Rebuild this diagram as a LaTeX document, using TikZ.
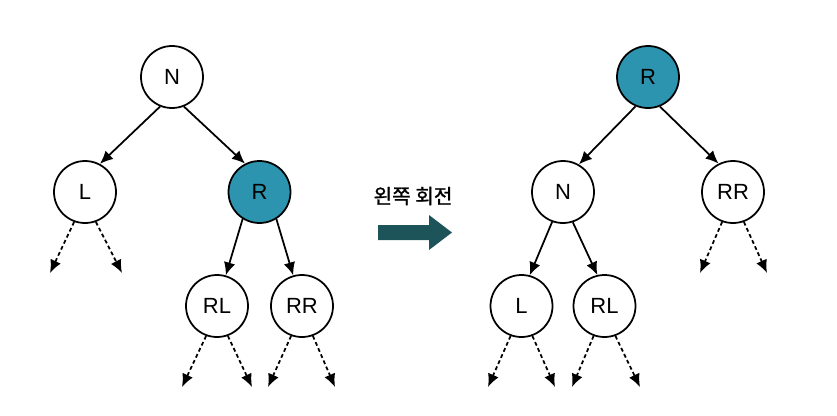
\documentclass[tikz,border=0pt]{standalone}
\usepackage{fontspec}
\setmainfont{Liberation Sans}
\newfontfamily\kofont[FakeBold=1.2]{Noto Sans CJK KR}
\usetikzlibrary{arrows.meta}

\definecolor{rotfill}{RGB}{44,148,174}
\definecolor{rotarrow}{RGB}{28,84,90}

\begin{document}
\begin{tikzpicture}[
  tnode/.style={circle,draw,line width=1pt,minimum size=1.24cm,inner sep=0pt,font=\fontsize{12.5}{14}\selectfont},
  hinode/.style={tnode,fill=rotfill},
  edge/.style={-{Latex[length=2.6mm,width=2.3mm]},line width=1pt},
  sub/.style={edge,dash pattern=on 2.2pt off 1.6pt}
]
\useasboundingbox (0,0) rectangle (16.74,8.30);

\node [tnode] (N) at (3.44,6.76) {N};
\node [tnode] (L) at (1.70,4.46) {L};
\node [hinode] (R) at (5.19,4.46) {R};
\node [tnode] (RL) at (4.34,2.18) {RL};
\node [tnode] (RR) at (6.04,2.18) {RR};

\draw [edge] (N.-112) -- (L.62);
\draw [edge] (N.-68) -- (R.117);
\draw [edge] (R.-122) -- (RL.74);
\draw [edge] (R.-58) -- (RR.106);

\coordinate (La) at (1.00,2.84);
\coordinate (Lb) at (2.44,2.84);
\coordinate (RLa) at (3.64,0.56);
\coordinate (RLb) at (5.04,0.56);
\coordinate (RRa) at (5.36,0.56);
\coordinate (RRb) at (6.70,0.56);
\draw [sub] (L.-110) -- (La);
\draw [sub] (L.-70) -- (Lb);
\draw [sub] (RL.-110) -- (RLa);
\draw [sub] (RL.-70) -- (RLb);
\draw [sub] (RR.-110) -- (RRa);
\draw [sub] (RR.-70) -- (RRb);

%------------\\

\node [font=\kofont\fontsize{11.5}{13}\selectfont] (rot) at (8.26,4.38) {왼쪽 회전};
\fill [rotarrow] (7.56,3.50) -- (8.58,3.50) -- (8.58,3.30) -- (9.04,3.65) -- (8.58,4.00) -- (8.58,3.80) -- (7.56,3.80) -- cycle;

%------------\\

\node [hinode] (R2) at (12.96,6.76) {R};
\node [tnode] (N2) at (11.26,4.46) {N};
\node [tnode] (RR2) at (14.66,4.46) {RR};
\node [tnode] (L2) at (10.43,2.18) {L};
\node [tnode] (RL2) at (12.09,2.18) {RL};

\draw [edge] (R2.-113) -- (N2.60);
\draw [edge] (R2.-68) -- (RR2.117);
\draw [edge] (N2.-110) -- (L2.75);
\draw [edge] (N2.-72) -- (RL2.103);

\coordinate (RR2a) at (14.00,2.84);
\coordinate (RR2b) at (15.34,2.84);
\coordinate (L2a) at (9.76,0.56);
\coordinate (L2b) at (11.10,0.56);
\coordinate (RL2a) at (11.44,0.56);
\coordinate (RL2b) at (12.80,0.56);
\draw [sub] (RR2.-110) -- (RR2a);
\draw [sub] (RR2.-70) -- (RR2b);
\draw [sub] (L2.-110) -- (L2a);
\draw [sub] (L2.-70) -- (L2b);
\draw [sub] (RL2.-110) -- (RL2a);
\draw [sub] (RL2.-70) -- (RL2b);
\end{tikzpicture}
\end{document}
